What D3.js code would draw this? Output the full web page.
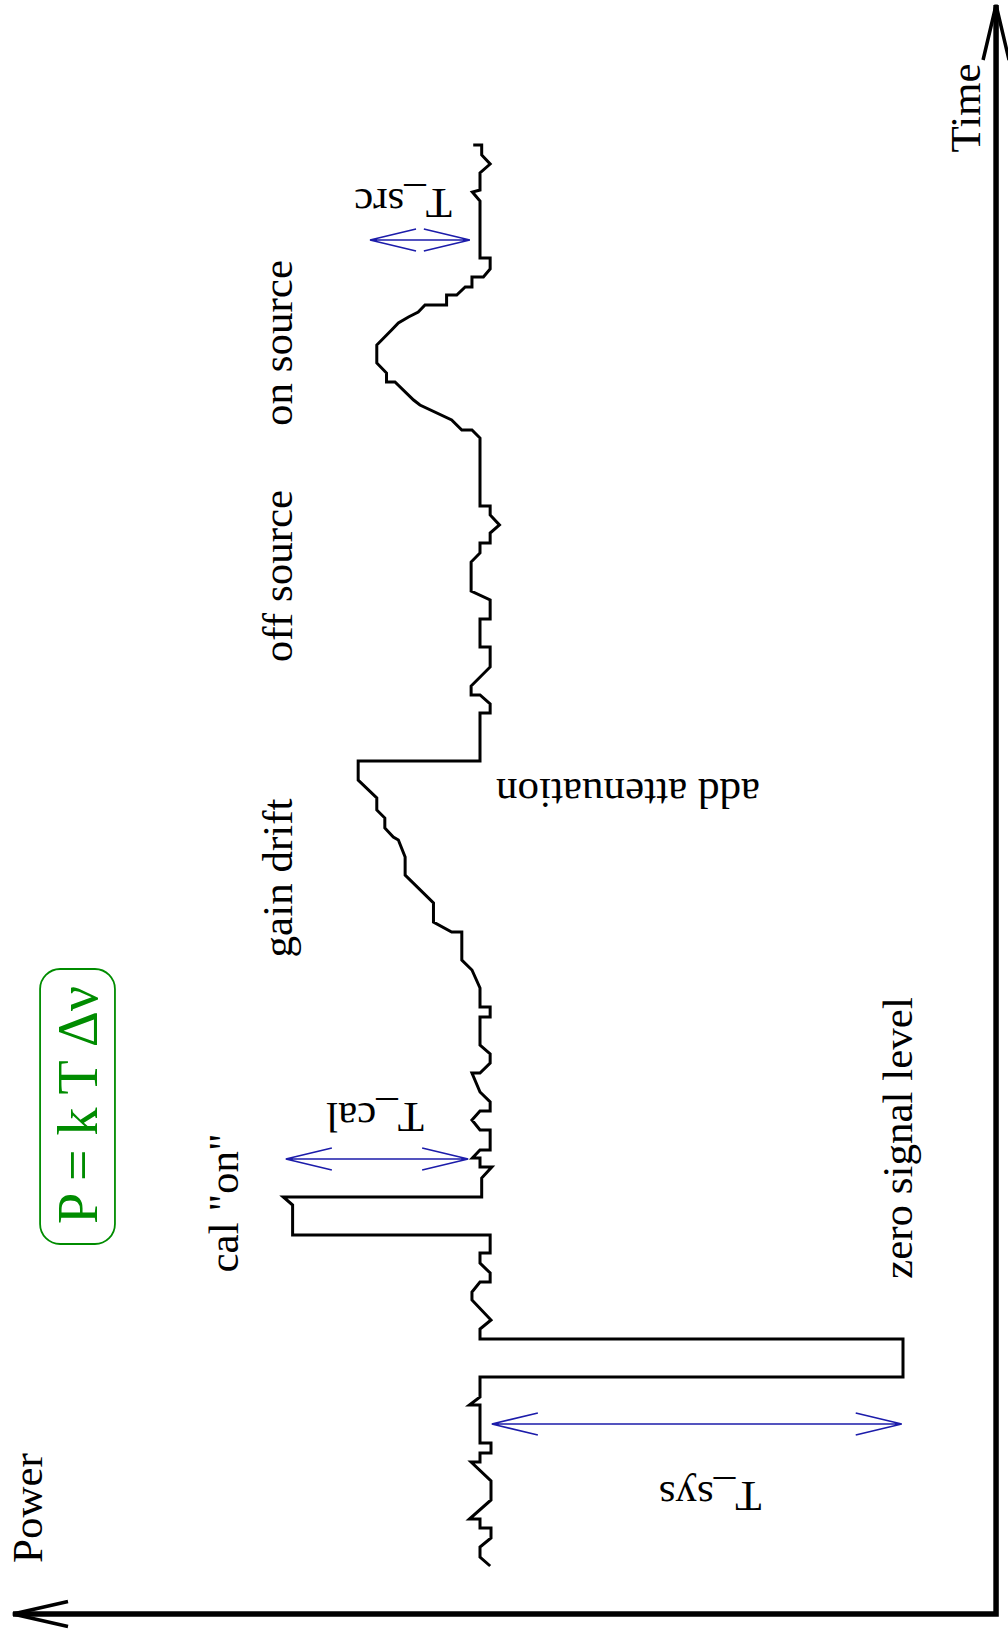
<!DOCTYPE html>
<html>
<head>
<meta charset="utf-8">
<script src="https://cdn.jsdelivr.net/npm/d3@7"></script>
<style>
  html, body { margin: 0; padding: 0; background: #fff; }
  svg { display: block; }
  text { font-family: "Liberation Serif", "Times New Roman", serif; }
</style>
</head>
<body>
<div id="vis"></div>
<script>
// trace: time (upwards) and power (leftwards), Tsys baseline = 100
const tempo = [0.0, 0.9, 1.9, 2.8, 3.8, 3.8, 4.7, 4.7, 6.6, 8.5, 10.4, 10.4, 11.3, 11.3, 12.3, 12.3,
  16.1, 16.1, 16.9, 18.9, 18.9, 22.7, 22.7, 23.7, 24.6, 26.6, 27.4, 28.4, 28.4, 29.3, 30.3, 31.3,
  31.3, 33.1, 33.1, 36.1, 36.9, 36.9, 38.8, 39.9, 39.9, 40.8, 40.8, 41.6, 41.6, 43.6, 43.6, 44.6,
  45.5, 45.5, 46.4, 47.4, 49.3, 49.3, 50.3, 51.2, 52.1, 54.9, 54.9, 55.9, 55.9, 57.8, 59.6, 60.6,
  63.4, 63.4, 64.4, 66.3, 69.1, 70.9, 72.6, 72.9, 73.8, 74.8, 75.6, 76.8, 78.6, 80.5, 80.5, 85.3,
  85.3, 86.2, 87.1, 87.1, 88.0, 89.9, 91.9, 91.9, 94.7, 94.7, 96.6, 97.5, 100.4, 101.3, 102.3, 102.3,
  103.3, 104.1, 105.1, 106.0, 106.0, 112.8, 113.6, 113.6, 114.6, 116.1, 116.6, 118.4, 118.4, 119.3,
  120.3, 122.1, 123.6, 124.3, 124.9, 125.4, 126.1, 126.1, 127.1, 127.1, 127.9, 127.9, 128.9, 128.9,
  129.7, 130.8, 130.8, 136.5, 137.4, 137.6, 139.3, 140.2, 141.1, 142.1, 142.1];
const potencia = [97.6, 100, 100, 97.4, 97.4, 100, 100, 102.5, 97.4, 97.4, 102.1, 100, 100, 97.4, 97.4, 100,
  100, 102.5, 100, 100, 0, 0, 100, 100, 97.4, 101.9, 101.9, 100, 97.6, 97.6, 100, 100,
  97.6, 97.6, 144.3, 144.3, 146.5, 99.6, 99.6, 97.2, 100, 100, 101.8, 100, 97.6, 97.6, 100, 101.9,
  100, 97.6, 97.6, 100, 101.9, 100, 97.6, 97.6, 100, 100, 97.6, 97.6, 100, 100, 101.9, 104.3,
  104.3, 106.7, 111.0, 111.0, 117.7, 117.7, 119.3, 120.5, 122.5, 122.5, 124.4, 124.4, 128.8, 128.8, 100, 100,
  97.6, 97.6, 100, 102.1, 102.1, 97.6, 97.6, 100, 100, 97.6, 97.6, 102.1, 102.1, 100, 100, 97.6,
  97.6, 95.4, 97.6, 97.6, 100, 100, 101.9, 104.3, 106.7, 114.2, 115.7, 120.1, 122.1, 122.1,
  124.4, 124.4, 120.9, 119.3, 116.9, 114.6, 113.0, 107.9, 107.9, 105.5, 103.5, 101.9, 101.9, 99.2,
  97.6, 97.6, 100, 100, 101.8, 100, 100, 97.6, 99.6, 99.6, 101.6];

// double arrows: name, time, power from, power to
const setasNomes = ["T_sys", "T_cal", "T_src"];
const setasTempo = [14.2, 40.7, 132.6];
const setasDe = [0.3, 145.9, 126.0];
const setasAte = [97.2, 102.8, 102.4];

// axes extents (power, time)
const eixoPotencia = [-22, 210.4];
const eixoTempo = [-4.8, 156.1];

const width = 1008, height = 1630;

const svg = d3.select("#vis").append("svg")
  .attr("width", width)
  .attr("height", height);

// Escalas
const xScale = d3.scaleLinear().domain([0, 100]).range([903, 480]);
const yScale = d3.scaleLinear().domain([0, 100]).range([1566, 566]);

const dados = tempo.map((t, i) => ({ t: t, p: potencia[i] }));

// V-shaped open arrow head at (x,y) pointing along (dx,dy)
function cabeca(x, y, dx, dy, comp, meia) {
  const n = Math.hypot(dx, dy);
  const ux = dx / n, uy = dy / n;
  const bx = x - ux * comp, by = y - uy * comp;
  return `M${bx - uy * meia},${by + ux * meia}L${x},${y}L${bx + uy * meia},${by - ux * meia}`;
}

// Eixos
const cx = xScale(eixoPotencia[0]), cy = yScale(eixoTempo[0]);
const px = xScale(eixoPotencia[1]), ty = yScale(eixoTempo[1]);

svg.append("path")
  .attr("d", `M${px},${cy}L${cx},${cy}L${cx},${ty}`)
  .attr("fill", "none")
  .attr("stroke", "#000")
  .attr("stroke-width", 5.5)
  .attr("stroke-linejoin", "miter");

svg.append("path")
  .attr("d", cabeca(px, cy, -1, 0, 55, 12.5) + cabeca(cx, ty, 0, -1, 55, 13))
  .attr("fill", "none")
  .attr("stroke", "#000")
  .attr("stroke-width", 3.5);

// Linha
const line = d3.line()
  .x(d => xScale(d.p))
  .y(d => yScale(d.t));

svg.append("path")
  .datum(dados)
  .attr("fill", "none")
  .attr("stroke", "#000")
  .attr("stroke-width", 3)
  .attr("stroke-linejoin", "miter")
  .attr("d", line);

// Setas azuis
const azul = "#1c1caa";
setasNomes.forEach((nome, i) => {
  const y = yScale(setasTempo[i]);
  const x1 = xScale(setasDe[i]), x2 = xScale(setasAte[i]);
  const esq = Math.min(x1, x2), dir = Math.max(x1, x2);
  svg.append("path")
    .attr("d", `M${esq},${y}L${dir},${y}` + cabeca(esq, y, -1, 0, 46, 11) + cabeca(dir, y, 1, 0, 46, 11))
    .attr("fill", "none")
    .attr("stroke", azul)
    .attr("stroke-width", 1.6);
});

// Textos
function rotulo(texto, p, t, ang, size, cor) {
  svg.append("text")
    .attr("transform", `translate(${xScale(p)},${yScale(t)}) rotate(${ang})`)
    .attr("text-anchor", "middle")
    .attr("font-size", size + "px")
    .attr("fill", cor || "#000")
    .text(texto);
}

rotulo("Power", 203.6, 5.8, -90, 43);
rotulo("Time", -18.2, 145.8, -90, 43);
rotulo("cal \"on\"", 157.2, 36.3, -90, 43);
rotulo("gain drift", 144.4, 68.8, -90, 43);
rotulo("off source", 144.4, 99.0, -90, 43);
rotulo("on source", 144.4, 122.3, -90, 43);
rotulo("zero signal level", -2.1, 42.8, -90, 43);

rotulo("add attenuation", 65.0, 78.7, 180, 43);
rotulo("T_sys", 45.6, 8.4, 180, 43);
rotulo("T_cal", 124.8, 46.3, 180, 43);
rotulo("T_src", 118.2, 137.7, 180, 43);

// Formula
const verde = "#008c00";
svg.append("rect")
  .attr("x", xScale(204))
  .attr("y", yScale(59.7))
  .attr("width", xScale(186.3) - xScale(204))
  .attr("height", yScale(32.2) - yScale(59.7))
  .attr("rx", 20)
  .attr("fill", "none")
  .attr("stroke", verde)
  .attr("stroke-width", 1.8);

rotulo("P = k T \u0394\u03bd", 190.5, 46.1, -90, 56, verde);
</script>
</body>
</html>
